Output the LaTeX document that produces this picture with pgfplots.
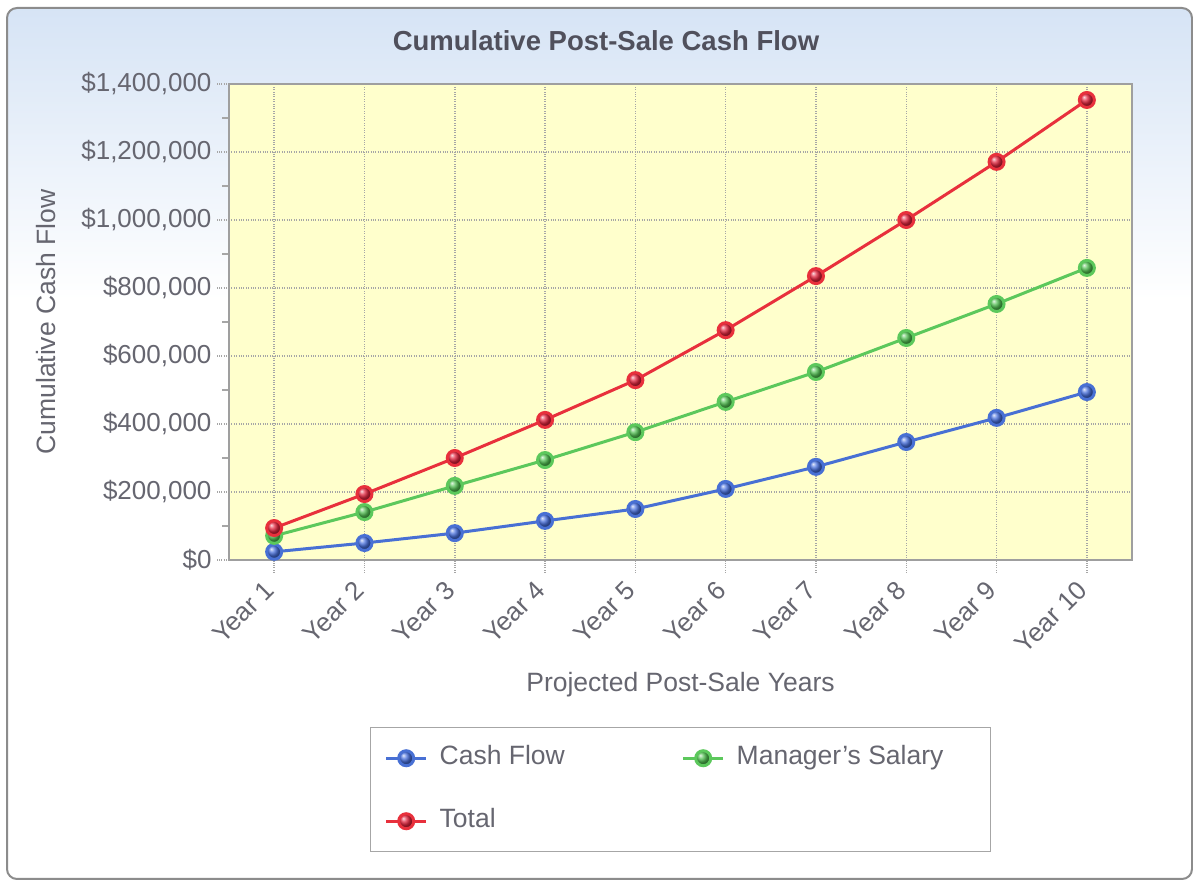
\documentclass[border=0pt]{standalone}
\usepackage{fontspec}
\setmainfont{Liberation Sans}
\usepackage{pgfplots}
\pgfplotsset{compat=1.18}
\usetikzlibrary{shadings}
\definecolor{cfline}{RGB}{72,112,212}
\definecolor{cfmark}{RGB}{70,110,220}
\definecolor{msline}{RGB}{92,200,92}
\definecolor{msmark}{RGB}{80,190,80}
\definecolor{ttline}{RGB}{232,48,60}
\definecolor{ttmark}{RGB}{225,35,60}
\definecolor{plotbg}{RGB}{255,255,204}
\definecolor{txtgray}{RGB}{102,102,112}
\definecolor{titlegray}{RGB}{80,80,92}
\definecolor{framegray}{RGB}{140,140,140}
\definecolor{topblue}{RGB}{213,227,245}
\begin{document}
\begin{tikzpicture}[x=1pt,y=1pt]
\path[use as bounding box] (0,0) rectangle (1193,880);
\begin{scope}
\clip[rounded corners=10pt] (7,1) rectangle (1192,872);
\fill[white] (0,0) rectangle (1193,880);
\shade[top color=topblue,bottom color=white] (0,580) rectangle (1193,880);
\end{scope}
\draw[framegray,line width=2pt,rounded corners=10pt] (7,1) rectangle (1192,872);
\node[font=\fontsize{27.5}{31}\selectfont\bfseries,text=titlegray] at (606,839) {Cumulative Post-Sale Cash Flow};
\begin{axis}[
  at={(229pt,320pt)}, anchor=south west,
  width=903pt, height=476pt, scale only axis,
  xmin=-0.5, xmax=9.5, ymin=0, ymax=1400000,
  scaled y ticks=false,
  xtick={0,...,9},
  xticklabels={Year 1,Year 2,Year 3,Year 4,Year 5,Year 6,Year 7,Year 8,Year 9,Year 10},
  ytick={0,200000,400000,600000,800000,1000000,1200000,1400000},
  yticklabels={\$0,{\$200,000},{\$400,000},{\$600,000},{\$800,000},{\$1,000,000},{\$1,200,000},{\$1,400,000}},
  minor ytick={100000,300000,500000,700000,900000,1100000,1300000},
  tickpos=left, tick align=outside,
  major tick length=12pt, minor tick length=7pt,
  major tick style={gray!70, dotted, line width=1.5pt},
  minor tick style={gray!70, solid, line width=1.5pt},
  grid=major,
  major grid style={gray!70, dotted, line width=1.5pt},
  axis line style={gray!75, line width=2pt},
  axis background/.style={fill=plotbg},
  tick label style={font=\fontsize{26}{30}\selectfont, text=txtgray},
  yticklabel style={xshift=-2pt},
  xticklabel style={rotate=45, anchor=north east, xshift=-9.6pt, yshift=6.2pt},
  xlabel={Projected Post-Sale Years},
  ylabel={Cumulative Cash Flow},
  label style={font=\fontsize{26.5}{30}\selectfont, text=txtgray},
  xlabel style={at={(axis description cs:0.5,-0.2626)}, anchor=center},
  ylabel style={at={(axis description cs:-0.2027,0.5)}, anchor=center},
  legend columns=2,
  legend cell align=left,
  legend image code/.code={\draw[mark repeat=2,mark phase=2,#1] plot coordinates {(0pt,0pt)(20pt,0pt)(40pt,0pt)};},
  legend style={at={(axis description cs:0.1561,-0.3508)}, anchor=north west,
    draw=gray!70, line width=1.5pt, fill=white,
    inner xsep=14pt, inner ysep=16pt, row sep=34pt,
    font=\fontsize{26.5}{30}\selectfont, text=txtgray,
    nodes={text height=19pt, text depth=6pt},
    /tikz/every odd column/.append style={column sep=10pt},
  },
]
\addplot[cfline, line width=3pt, mark=ball, mark size=7.5pt, mark options={ball color=cfmark, draw=none}] coordinates {
(0,24000)(1,50000)(2,79000)(3,115000)(4,150000)(5,209000)(6,274000)(7,347000)(8,418000)(9,494000)};
\addlegendentry{\makebox[240pt][l]{Cash Flow}}
\addplot[msline, line width=3pt, mark=ball, mark size=7.5pt, mark options={ball color=msmark, draw=none}] coordinates {
(0,71000)(1,141000)(2,218000)(3,294000)(4,376000)(5,465000)(6,553000)(7,653000)(8,753000)(9,859000)};
\addlegendentry{\makebox[238pt][l]{Manager's Salary}}
\addplot[ttline, line width=3pt, mark=ball, mark size=7.5pt, mark options={ball color=ttmark, draw=none}] coordinates {
(0,94000)(1,194000)(2,300000)(3,412000)(4,529000)(5,676000)(6,835000)(7,1000000)(8,1171000)(9,1353000)};
\addlegendentry{Total}
\end{axis}
\end{tikzpicture}
\end{document}
